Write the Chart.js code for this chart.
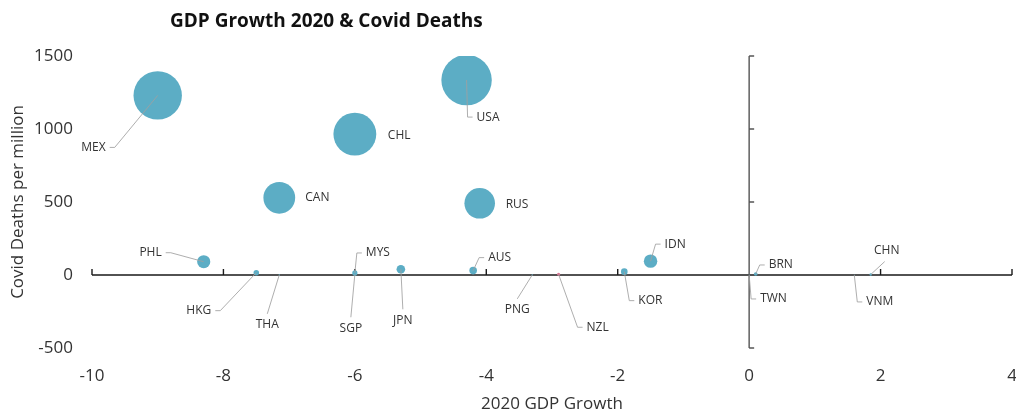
<!DOCTYPE html>
<html>
<head>
<meta charset="utf-8">
<script src="https://cdn.jsdelivr.net/npm/chart.js@4"></script>
<style>
  html, body { margin: 0; padding: 0; background: #fff; }
  #wrap { width: 1016px; height: 412px; position: relative; }
</style>
</head>
<body>
<div id="wrap"><canvas id="c"></canvas></div>
<script>
// ---- Data ----
const countries = ['MEX','USA','CHL','CAN','RUS','PHL','HKG','THA','SGP','MYS','JPN','AUS','PNG','NZL','KOR','IDN','BRN','TWN','CHN','VNM'];
const gdpGrowth2020 = [-9.0,-4.3,-6.0,-7.15,-4.1,-8.3,-7.5,-7.15,-6.0,-6.0,-5.3,-4.2,-3.3,-2.9,-1.9,-1.5,0.1,0.0,1.85,1.6];
const deathsPerMillion = [1230,1335,965,529,491,91,16,1,5,14,39,30,1,5,23,95,7,0.3,3,0.4];
const xTicks = [-10,-8,-6,-4,-2,0,2,4];
const yTicks = [-500,0,500,1000,1500];
const chartTitle = 'GDP Growth 2020 & Covid Deaths';
const xTitle = '2020 GDP Growth';
const yTitle = 'Covid Deaths per million';

// ---- Label placement (pixel offsets from the point, alignment, leader type) ----
const labelPlacement = {
  MEX: [-52, 52, 'right', 'elbow'],
  USA: [10, 37, 'left', 'elbow'],
  CHL: [33, 1, 'left', 'none'],
  CAN: [26, 0, 'left', 'none'],
  RUS: [26, 1, 'left', 'none'],
  PHL: [-42, -9, 'right', 'elbow'],
  HKG: [-45, 38, 'right', 'elbow'],
  THA: [-12, 50, 'center', 'top'],
  SGP: [-4, 54, 'center', 'top'],
  MYS: [11, -20, 'left', 'elbow'],
  JPN: [2, 51, 'center', 'top'],
  AUS: [15, -13, 'left', 'elbow'],
  PNG: [-15, 35, 'center', 'top'],
  NZL: [28, 53, 'left', 'elbow'],
  KOR: [14, 29, 'left', 'elbow'],
  IDN: [14, -17, 'left', 'elbow'],
  BRN: [13, -9, 'left', 'elbow'],
  TWN: [11, 24, 'left', 'elbow'],
  CHN: [16, -24, 'center', 'bottom'],
  VNM: [12, 27, 'left', 'elbow']
};

const FONT = "'Open Sans', 'Noto Sans', sans-serif";
const BUBBLE = '#5cadc5';
const TEXT = '#333333';

const points = countries.map((c, i) => ({ x: gdpGrowth2020[i], y: deathsPerMillion[i], name: c }));

const crossAxes = {
  id: 'crossAxes',
  beforeDatasetsDraw(chart) {
    const { ctx, scales: { x, y } } = chart;
    const x0 = x.getPixelForValue(0), y0 = y.getPixelForValue(0);
    ctx.save();
    ctx.strokeStyle = '#1a1a1a';
    ctx.lineWidth = 1.4;
    ctx.beginPath();
    ctx.moveTo(x.left, y0); ctx.lineTo(x.right, y0);
    xTicks.forEach(v => {
      if (v === 0) return;
      const px = x.getPixelForValue(v);
      ctx.moveTo(px, y0); ctx.lineTo(px, y0 - 6);
    });
    ctx.stroke();
    ctx.strokeStyle = '#555555';
    ctx.beginPath();
    ctx.moveTo(x0, y.top); ctx.lineTo(x0, y.bottom);
    yTicks.forEach(v => {
      if (v === 0) return;
      const py = y.getPixelForValue(v);
      ctx.moveTo(x0, py); ctx.lineTo(x0 + 5, py);
    });
    ctx.stroke();
    ctx.restore();
  }
};

const pointLabels = {
  id: 'pointLabels',
  afterDatasetsDraw(chart) {
    const { ctx } = chart;
    const meta = chart.getDatasetMeta(0);
    ctx.save();
    ctx.font = "12px " + FONT;
    ctx.textBaseline = 'middle';
    meta.data.forEach((el, i) => {
      const name = countries[i];
      const pl = labelPlacement[name];
      if (!pl) return;
      const [dx, dy, align, leader] = pl;
      const px = el.x, py = el.y;
      const ax = px + dx, ay = py + dy;
      ctx.strokeStyle = 'rgba(160,160,160,0.85)';
      ctx.lineWidth = 1;
      ctx.beginPath();
      if (leader === 'elbow') {
        const sgn = align === 'right' ? 1 : -1;
        ctx.moveTo(px, py);
        ctx.lineTo(ax + sgn * 9, ay);
        ctx.lineTo(ax + sgn * 4, ay);
      } else if (leader === 'top') {
        ctx.moveTo(px, py);
        ctx.lineTo(ax, ay - 11);
      } else if (leader === 'bottom') {
        ctx.moveTo(px, py);
        ctx.lineTo(ax - 2, ay + 11);
      }
      ctx.stroke();
      ctx.fillStyle = TEXT;
      ctx.textAlign = align;
      ctx.fillText(name, ax, ay);
    });
    ctx.restore();
  }
};

const titlePlugin = {
  id: 'titlePlugin',
  afterDraw(chart) {
    const { ctx } = chart;
    ctx.save();
    ctx.font = "bold 19px " + FONT;
    ctx.fillStyle = '#111111';
    ctx.textAlign = 'left';
    ctx.textBaseline = 'middle';
    ctx.fillText(chartTitle, 170, 22);
    ctx.restore();
  }
};

new Chart(document.getElementById('c'), {
  type: 'bubble',
  data: {
    datasets: [{
      data: points,
      backgroundColor: ctx => (ctx.raw && ctx.raw.name === 'NZL') ? '#d9708f' : BUBBLE,
      borderWidth: 0,
      radius: ctx => 0.69 * Math.sqrt(Math.max(ctx.raw ? ctx.raw.y : 0, 0)),
      hoverRadius: 0
    }]
  },
  options: {
    responsive: true,
    maintainAspectRatio: false,
    animation: false,
    layout: { autoPadding: false, padding: { top: 56, left: 4, right: 4, bottom: 0 } },
    plugins: { legend: { display: false }, tooltip: { enabled: false }, title: { display: false } },
    scales: {
      x: {
        type: 'linear', min: -10, max: 4,
        afterBuildTicks: s => { s.ticks = xTicks.map(v => ({ value: v })); },
        afterFit: s => { s.height = 64; s.paddingLeft = 0; s.paddingRight = 0; },
        grid: { display: false }, border: { display: false },
        ticks: { color: TEXT, font: { family: FONT, size: 17 }, padding: 10, maxRotation: 0, callback: v => String(v) },
        title: { display: true, text: xTitle, color: TEXT, font: { family: FONT, size: 17 }, padding: { top: 6, bottom: -2 } }
      },
      y: {
        type: 'linear', min: -500, max: 1500,
        afterBuildTicks: s => { s.ticks = yTicks.map(v => ({ value: v })); },
        afterFit: s => { s.width = 88; s.paddingTop = 0; s.paddingBottom = 0; },
        grid: { display: false }, border: { display: false },
        ticks: { color: TEXT, font: { family: FONT, size: 17 }, padding: 11, callback: v => String(v) },
        title: { display: true, text: yTitle, color: TEXT, font: { family: FONT, size: 17 }, padding: { top: 4, bottom: 4 } }
      }
    }
  },
  plugins: [crossAxes, pointLabels, titlePlugin]
});
</script>
</body>
</html>
